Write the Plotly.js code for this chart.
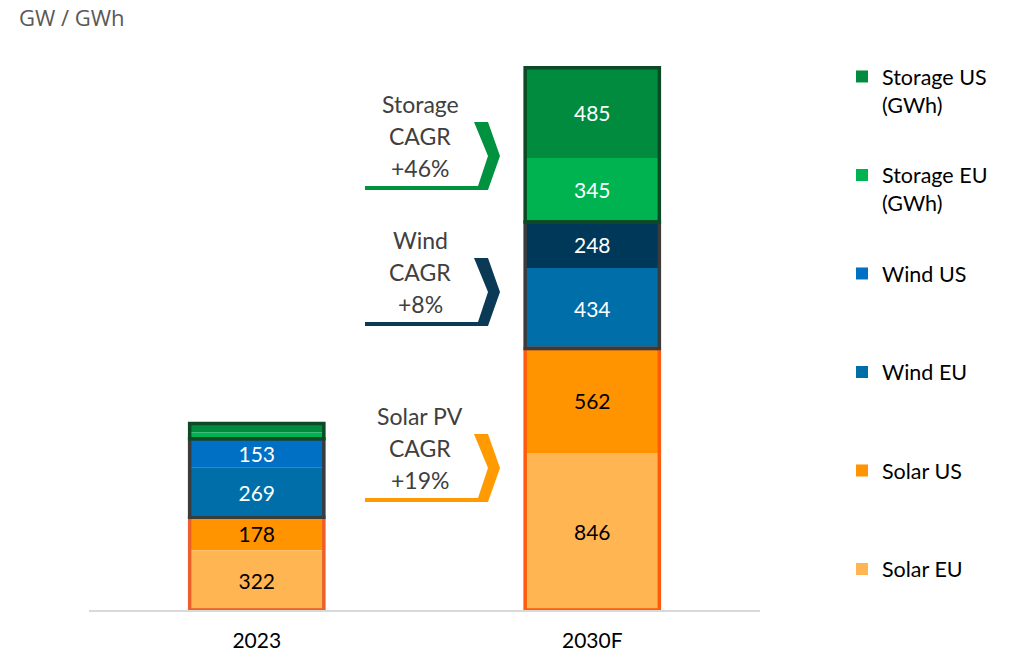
<!DOCTYPE html>
<html>
<head>
<meta charset="utf-8">
<script src="https://cdn.plot.ly/plotly-3.0.1.min.js"></script>
<style>html,body{margin:0;padding:0;background:#fff;}#chart{width:1009px;height:651px;}</style>
</head>
<body>
<div id="chart"></div>
<script>
// ---- data ----
const categories = ['2023', '2030F'];
const solarEU = [322, 846];
const solarUS = [178, 562];
const windEU = [269, 434];
const windUS = [153, 248];
const storageEU = [34, 345];
const storageUS = [48, 485];
const seriesNames = ['Storage US<br>(GWh)', 'Storage EU<br>(GWh)', 'Wind US<br> ', 'Wind EU<br> ', 'Solar US<br> ', 'Solar EU<br> '];
const cagrBlocks = [['Storage', 'CAGR', '+46%'], ['Wind', 'CAGR', '+8%'], ['Solar PV', 'CAGR', '+19%']];

// ---- helpers ----
const add = (a, b) => a.map((v, i) => v + b[i]);
const FONT = 'Lato, "Open Sans", sans-serif';
const L = 89, R = 249, T = 53, B = 41, W = 1009, H = 651;
const pw = W - L - R, ph = H - T - B;
const xp = px => (px - L) / pw;
const yp = py => (H - B - py) / ph;
const labelText = arr => arr.map(v => (v >= 100 ? String(v) : ''));

const base0 = [0, 0];
const bSolarUS = solarEU.slice();
const bWindEU = add(bSolarUS, solarUS);
const bWindUS = add(bWindEU, windEU);
const bStorageEU = add(bWindUS, windUS);
const bStorageUS = add(bStorageEU, storageEU);

const BW = 0.4;
function seg(name, y, base, color, textColor) {
  return {
    type: 'bar', x: categories, y: y, base: base, name: name, width: BW,
    legendgroup: name,
    marker: {color: color, line: {width: 0}},
    text: labelText(y), textposition: 'inside', insidetextanchor: 'middle',
    constraintext: 'none',
    textfont: {family: FONT, size: 21, color: textColor},
    hoverinfo: 'skip'
  };
}
function outline(y, base, colors) {
  return {
    type: 'bar', x: categories, y: y, base: base, width: BW, showlegend: false,
    marker: {color: 'rgba(0,0,0,0)', line: {width: 3.5, color: colors}},
    hoverinfo: 'skip'
  };
}

const traces = [
  seg(seriesNames[0], storageUS, bStorageUS, '#008B3F', '#ffffff'),
  seg(seriesNames[1], storageEU, bStorageEU, '#00B351', '#ffffff'),
  seg(seriesNames[2], windUS, bWindUS, ['#0070C5', '#00385A'], '#ffffff'),
  seg(seriesNames[3], windEU, bWindEU, '#006EA8', '#ffffff'),
  seg(seriesNames[4], solarUS, bSolarUS, '#FF9300', '#000000'),
  seg(seriesNames[5], solarEU, base0, '#FFB652', '#000000'),
  outline(add(solarEU, solarUS), base0, ['#EA5F2A', '#FF5B0C']),
  outline(add(windEU, windUS), bWindEU, ['#3B3B3B', '#3B3B3B']),
  outline(add(storageEU, storageUS), bStorageEU, ['#0B4A25', '#0B4A25'])
];

// ---- CAGR callouts ----
const blockTops = [122, 258, 434];
const chevronColors = ['#00923F', '#0B3A56', '#FF9A00'];
const annotations = [];
const shapes = [];
cagrBlocks.forEach((lines, bi) => {
  const top = blockTops[bi];
  lines.forEach((t, li) => {
    annotations.push({
      xref: 'paper', yref: 'paper', x: xp(420), y: yp(top - 18 + li * 32),
      xanchor: 'center', yanchor: 'middle', showarrow: false, text: t,
      font: {family: FONT, size: 23, color: '#404040'}
    });
  });
  const bot = top + 68, mid = top + 34;
  const pts = [[365, bot - 4], [478, bot - 4], [488, mid], [474, top], [488, top], [500, mid], [488, bot], [365, bot]];
  const path = pts.map((p, i) => (i ? 'L' : 'M') + xp(p[0]).toFixed(5) + ',' + yp(p[1]).toFixed(5)).join(' ') + ' Z';
  shapes.push({type: 'path', xref: 'paper', yref: 'paper', path: path, fillcolor: chevronColors[bi], line: {width: 0}});
});

const layout = {
  width: W, height: H,
  margin: {l: L, r: R, t: T, b: B, pad: 0},
  paper_bgcolor: '#ffffff', plot_bgcolor: '#ffffff',
  barmode: 'overlay',
  title: {
    text: 'GW / GWh', font: {family: '"Open Sans", sans-serif', size: 22, color: '#595959'},
    xref: 'container', yref: 'container', x: 19 / W, xanchor: 'left', y: 1 - 18 / H, yanchor: 'middle'
  },
  xaxis: {
    type: 'category', range: [-0.5, 1.5], showgrid: false, zeroline: false,
    showline: true, linecolor: '#D9D9D9', linewidth: 2, ticks: '',
    ticklabelstandoff: 11,
    tickfont: {family: FONT, size: 21, color: '#000000'}
  },
  yaxis: {range: [0, 3000], visible: false},
  legend: {
    xref: 'container', yref: 'container', x: 842 / W, xanchor: 'left',
    y: 1 - 56 / H, yanchor: 'top', traceorder: 'grouped', tracegroupgap: 39.6,
    maxheight: 1,
    valign: 'top', font: {family: FONT, size: 21.5, color: '#000000'},
    bgcolor: 'rgba(0,0,0,0)'
  },
  annotations: annotations,
  shapes: shapes,
  showlegend: true
};

Plotly.newPlot('chart', traces, layout, {displayModeBar: false, staticPlot: true});
</script>
</body>
</html>
